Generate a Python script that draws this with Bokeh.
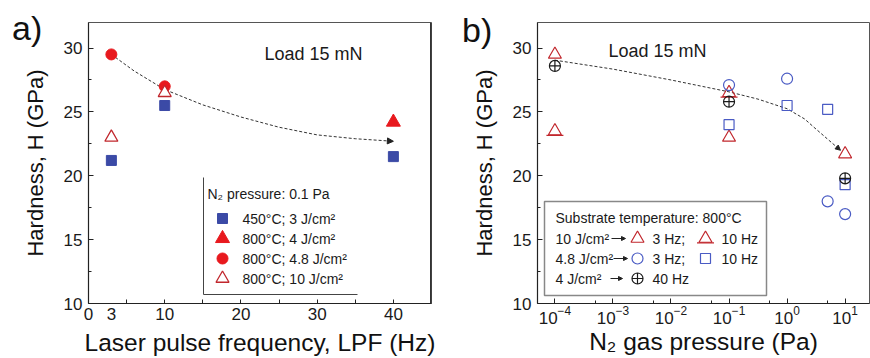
from bokeh.plotting import figure
from bokeh.models import Range1d, FixedTicker, Arrow, NormalHead, Span, Div, GridBox
from bokeh.core.properties import value
from bokeh.embed import file_html
from bokeh.resources import INLINE

FONT = "Liberation Sans"

# ---------------- panel a: hardness vs laser pulse frequency ----------------
lpf_450_3J = [3, 10, 40]
hard_450_3J = [21.2, 25.5, 21.5]
lpf_800_4J = [40]
hard_800_4J = [24.2]
lpf_800_48J = [3, 10]
hard_800_48J = [29.5, 27.0]
lpf_800_10J = [3, 10]
hard_800_10J = [23.0, 26.5]
trend_a_lpf = [3, 6, 10, 15, 20, 25, 30, 35, 40]
trend_a_hard = [29.5, 28.2, 26.75, 25.55, 24.6, 23.8, 23.2, 22.9, 22.7]

# ---------------- panel b: hardness vs N2 gas pressure ----------------
pres_10J_3Hz = [1e-4, 0.1, 10]
hard_10J_3Hz = [29.5, 23.0, 21.7]
pres_10J_10Hz = [1e-4, 0.1]
hard_10J_10Hz = [23.5, 26.5]
pres_48J_3Hz = [0.1, 1, 5, 10]
hard_48J_3Hz = [27.1, 27.6, 18.0, 17.0]
pres_48J_10Hz = [0.1, 1, 5, 10]
hard_48J_10Hz = [24.0, 25.5, 25.2, 19.3]
pres_4J_40Hz = [1e-4, 0.1, 10]
hard_4J_40Hz = [28.6, 25.8, 19.8]
trend_b_pres = [1e-4, 1e-3, 1e-2, 0.1, 0.316, 1, 2.0, 2.9, 4.9, 8.3]
trend_b_hard = [29.05, 28.35, 27.5, 26.57, 26.0, 25.25, 24.45, 23.8, 22.9, 22.0]

hard_ticks = [10, 15, 20, 25, 30]
hard_minor = [12.5, 17.5, 22.5, 27.5, 32.5]
lpf_ticks = [0, 3, 10, 20, 30, 40]
lpf_marks = [5, 10, 15, 20, 25, 30, 35, 40]
pres_ticks = [1e-4, 1e-3, 1e-2, 1e-1, 1, 10]
pres_minor = [5e-5, 5e-4, 5e-3, 5e-2, 0.5, 5]

# colours
BLUE_A = "#3b4aa6"
RED = "#e8191e"
DARK_RED = "#c1272d"
BLUE_B = "#4a5bc4"
BLACK = "#1a1a1a"

H = 358
# panel geometry (pixels)
A_W, A_L, A_R, TOP, BOT = 435, 88, 4, 22, 55
B_W, B_L, B_R = 435, 102, 1
FRAME_H = H - TOP - BOT
A_XMAX = 45.0
Y0, Y1 = 10.0, 32.0
B_LOG0, B_LOG1 = -4.3, 1.42
A_FW = A_W - A_L - A_R
B_FW = B_W - B_L - B_R
PX_PER_DECADE = B_FW / (B_LOG1 - B_LOG0)


def ax_(px):  # frame pixel -> panel a data x
    return px / A_FW * A_XMAX


def ay_(py):  # frame pixel (from top) -> data y
    return Y1 - py / FRAME_H * (Y1 - Y0)


def bx_(px):  # frame pixel -> panel b data x (log)
    return 10 ** (B_LOG0 + px / B_FW * (B_LOG1 - B_LOG0))


BAR_DY = 4.3 / FRAME_H * (Y1 - Y0)      # bar sits at the base of the triangle
BAR_HALF = 10 ** (8.5 / PX_PER_DECADE)   # half bar length as a factor on the log axis


def style(p):
    p.xgrid.visible = False
    p.ygrid.visible = False
    p.outline_line_color = "#555555"
    p.outline_line_width = 1
    p.background_fill_color = "white"
    p.border_fill_color = "white"
    for a in p.axis:
        a.axis_line_color = "#222222"
        a.axis_line_width = 1.2
        a.major_tick_in = 5
        a.major_tick_out = 0
        a.minor_tick_in = 3
        a.minor_tick_out = 0
        a.major_tick_line_color = "#222222"
        a.minor_tick_line_color = "#222222"
        a.major_label_text_font = FONT
        a.major_label_text_font_size = "17px"
        a.major_label_text_color = "#1a1a1a"
        a.major_label_text_line_height = 1.0
        a.axis_label_text_font = FONT
        a.axis_label_text_font_style = "normal"
        a.axis_label_text_color = "#111111"
        a.axis_label_text_line_height = 1.0
    p.yaxis.axis_label_text_font_size = "22px"
    p.xaxis.axis_label_text_font_size = "24.5px"
    p.yaxis.ticker = FixedTicker(ticks=hard_ticks, minor_ticks=hard_minor)
    p.yaxis.major_label_standoff = 6
    p.yaxis.axis_label_standoff = 13
    p.xaxis.major_label_standoff = 4
    p.xaxis.axis_label_standoff = 6


def txt(p, x, y, s, size="14px", baseline="middle", align="left"):
    p.text(x=[x], y=[y], text=[s], text_font=value(FONT), text_font_size=size,
           text_baseline=baseline, text_align=align, text_color="#1a1a1a")


def panel_tag(s, left, top):
    return Div(text=s, width=50, height=44, margin=(top, 0, 0, left),
               styles={"font-family": FONT, "font-size": "34px", "line-height": "34px",
                       "color": "#111111"})


# ======================= panel a =======================
pa = figure(width=A_W, height=H, output_backend="svg", toolbar_location=None,
            x_range=Range1d(0, A_XMAX), y_range=Range1d(Y0, Y1),
            min_border_left=A_L, min_border_right=A_R,
            min_border_top=TOP, min_border_bottom=BOT)
style(pa)
pa.xaxis.axis_label = "Laser pulse frequency, LPF (Hz)"
pa.yaxis.axis_label = "Hardness, H (GPa)"
pa.xaxis.ticker = FixedTicker(ticks=lpf_ticks, minor_ticks=lpf_marks)
pa.xaxis.major_tick_in = 0
pa.xaxis.minor_tick_in = 4

pa.line(trend_a_lpf, trend_a_hard, line_color="#333333", line_width=1, line_dash="3 2")
pa.add_layout(Arrow(end=NormalHead(size=6, fill_color="#222222", line_color="#222222"),
                    x_start=trend_a_lpf[-2], y_start=trend_a_hard[-2],
                    x_end=trend_a_lpf[-1], y_end=trend_a_hard[-1], line_alpha=0))

pa.scatter(lpf_800_48J, hard_800_48J, marker="circle", size=11, fill_color=RED, line_color=RED)
pa.scatter(lpf_800_10J, hard_800_10J, marker="triangle", size=13, fill_color="white",
           line_color=DARK_RED, line_width=1.3)
pa.scatter(lpf_450_3J, hard_450_3J, marker="square", size=10, fill_color=BLUE_A, line_color=BLUE_A)
pa.scatter(lpf_800_4J, hard_800_4J, marker="triangle", size=14, fill_color=RED, line_color=RED)

txt(pa, ax_(176), ay_(31.3), "Load 15 mN", size="18px", baseline="alphabetic")

# legend of panel a
pa.segment(x0=[ax_(115), ax_(115)], y0=[ay_(155), ay_(272)],
           x1=[ax_(115), ax_(269)], y1=[ay_(272), ay_(272)], line_color="#444444", line_width=1)
txt(pa, ax_(119), ay_(171), "N\u2082 pressure: 0.1 Pa")
leg_rows = [196, 216, 236, 256]
leg_text = ["450\u00b0C; 3 J/cm\u00b2", "800\u00b0C; 4 J/cm\u00b2",
            "800\u00b0C; 4.8 J/cm\u00b2", "800\u00b0C; 10 J/cm\u00b2"]
mx = ax_(134)
pa.scatter([mx], [ay_(leg_rows[0])], marker="square", size=10, fill_color=BLUE_A, line_color=BLUE_A)
pa.scatter([mx], [ay_(leg_rows[1])], marker="triangle", size=14, fill_color=RED, line_color=RED)
pa.scatter([mx], [ay_(leg_rows[2])], marker="circle", size=11, fill_color=RED, line_color=RED)
pa.scatter([mx], [ay_(leg_rows[3])], marker="triangle", size=13, fill_color="white",
           line_color=DARK_RED, line_width=1.3)
for r, s in zip(leg_rows, leg_text):
    txt(pa, ax_(154), ay_(r), s)

pa.add_layout(Span(location=A_XMAX, dimension="height", line_color="#333333", line_width=3))

# ======================= panel b =======================
pb = figure(width=B_W, height=H, output_backend="svg", toolbar_location=None,
            x_axis_type="log", x_range=Range1d(10 ** B_LOG0, 10 ** B_LOG1),
            y_range=Range1d(Y0, Y1),
            min_border_left=B_L, min_border_right=B_R,
            min_border_top=TOP, min_border_bottom=BOT)
style(pb)
pb.xaxis.axis_label = "N\u2082 gas pressure (Pa)"
pb.yaxis.axis_label = "Hardness, H (GPa)"
pb.xaxis.ticker = FixedTicker(ticks=pres_ticks, minor_ticks=pres_minor)
pb.xaxis.major_label_standoff = 2
pb.xaxis.axis_label_standoff = 1

pb.line(trend_b_pres, trend_b_hard, line_color="#333333", line_width=1, line_dash="3 2")
pb.add_layout(Arrow(end=NormalHead(size=5, fill_color="#222222", line_color="#222222"),
                    x_start=trend_b_pres[-2], y_start=trend_b_hard[-2],
                    x_end=trend_b_pres[-1], y_end=trend_b_hard[-1], line_alpha=0))


def tri_bar(p, xs, ys):
    # open triangle standing on a short horizontal bar
    p.scatter(xs, ys, marker="triangle", size=13, fill_color=None, line_color=DARK_RED, line_width=1.2)
    p.segment(x0=[x / BAR_HALF for x in xs], x1=[x * BAR_HALF for x in xs],
              y0=[y - BAR_DY for y in ys], y1=[y - BAR_DY for y in ys],
              line_color=DARK_RED, line_width=1.3)


pb.scatter(pres_10J_3Hz, hard_10J_3Hz, marker="triangle", size=13, fill_color=None,
           line_color=DARK_RED, line_width=1.2)
tri_bar(pb, pres_10J_10Hz, hard_10J_10Hz)
pb.scatter(pres_48J_3Hz, hard_48J_3Hz, marker="circle", size=11, fill_color=None,
           line_color=BLUE_B, line_width=1.2)
pb.scatter(pres_48J_10Hz, hard_48J_10Hz, marker="square", size=10, fill_color=None,
           line_color=BLUE_B, line_width=1.2)
pb.scatter(pres_4J_40Hz, hard_4J_40Hz, marker="circle_cross", size=11, fill_color=None,
           line_color=BLACK, line_width=1.2)

txt(pb, bx_(71), ay_(28), "Load 15 mN", size="18px", baseline="alphabetic")

# legend of panel b
pb.quad(left=[bx_(7)], right=[bx_(229)], top=[ay_(179)], bottom=[ay_(273)],
        fill_color="white", line_color="#888888", line_width=1.5)
txt(pb, bx_(18), ay_(195), "Substrate temperature: 800\u00b0C")
r1, r2, r3 = ay_(216), ay_(236), ay_(256)
txt(pb, bx_(18), r1, "10 J/cm\u00b2")
txt(pb, bx_(18), r2, "4.8 J/cm\u00b2")
txt(pb, bx_(18), r3, "4 J/cm\u00b2")
for (x0, x1, yy) in [(74, 88, r1), (76, 90, r2), (73, 85, r3)]:
    pb.add_layout(Arrow(end=NormalHead(size=4, fill_color="#222222", line_color="#222222"),
                        x_start=bx_(x0), y_start=yy, x_end=bx_(x1), y_end=yy,
                        line_color="#222222", line_width=1))
m1, m2 = bx_(100), bx_(168)
pb.scatter([m1], [r1], marker="triangle", size=13, fill_color=None, line_color=DARK_RED, line_width=1.2)
tri_bar(pb, [m2], [r1])
pb.scatter([m1], [r2], marker="circle", size=11, fill_color=None, line_color=BLUE_B, line_width=1.2)
pb.scatter([m2], [r2], marker="square", size=10, fill_color=None, line_color=BLUE_B, line_width=1.2)
pb.scatter([m1], [r3], marker="circle_cross", size=11, fill_color=None, line_color=BLACK, line_width=1.2)
txt(pb, bx_(115), r1, "3 Hz;")
txt(pb, bx_(184), r1, "10 Hz")
txt(pb, bx_(115), r2, "3 Hz;")
txt(pb, bx_(184), r2, "10 Hz")
txt(pb, bx_(115), r3, "40 Hz")

# panel tags drawn over the top-left corner of each panel
tag_a = panel_tag("a)", 12, 11)
tag_b = panel_tag("b)", 27, 13)

layout = GridBox(children=[(pa, 0, 0), (pb, 0, 1), (tag_a, 0, 0), (tag_b, 0, 1)])
open("out.html", "w").write(file_html(layout, INLINE))
